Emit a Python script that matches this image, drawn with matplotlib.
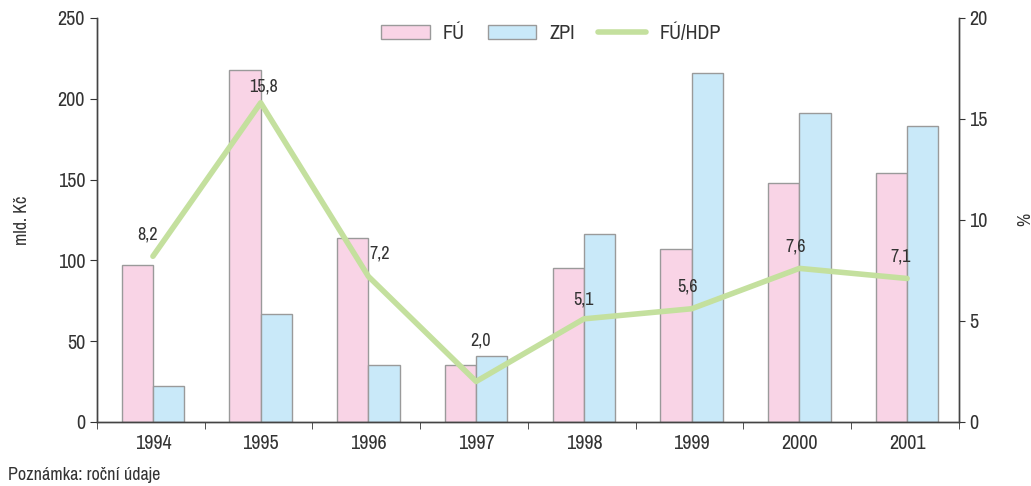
import numpy as np
import matplotlib.pyplot as plt
from matplotlib import font_manager

# prefer a condensed face if one is installed
installed = {f.name for f in font_manager.fontManager.ttflist}
narrow = [n for n in sorted(installed) if "Narrow" in n or "Condensed" in n]
if narrow:
    plt.rcParams['font.family'] = [narrow[0], 'DejaVu Sans']
    fs = 13
else:
    plt.rcParams['font.family'] = ['Roboto', 'DejaVu Sans']
    fs = 12
tfs = fs + 1.5

years = ["1994", "1995", "1996", "1997", "1998", "1999", "2000", "2001"]
fu = [97, 218, 114, 35, 95, 107, 148, 154]
zpi = [22, 67, 35, 41, 116, 216, 191, 183]
fu_hdp = [8.2, 15.8, 7.2, 2.0, 5.1, 5.6, 7.6, 7.1]
fu_hdp_labels = ["8,2", "15,8", "7,2", "2,0", "5,1", "5,6", "7,6", "7,1"]
label_offsets = [(-4, 10), (2, 6), (8, 11), (3, 24), (0, 8), (-3, 10), (-3, 10), (-5, 10)]

pink = "#F9D4E6"
blue = "#C9E9F9"
green = "#C4E09E"
edge = "#9A9A9A"

fig = plt.figure(figsize=(10.31, 4.86), dpi=100)
ax = fig.add_axes([0.094, 0.132, 0.836, 0.831])
ax2 = ax.twinx()

x = np.arange(len(years))
w = 0.29
ax.bar(x - w / 2 + 0.02, fu, w, color=pink, edgecolor=edge, linewidth=1, label="FÚ", zorder=2)
ax.bar(x + w / 2 + 0.02, zpi, w, color=blue, edgecolor=edge, linewidth=1, label="ZPI", zorder=2)
ax2.plot(x + 0.02, fu_hdp, color=green, linewidth=4, solid_capstyle="round", label="FÚ/HDP")

for xi, v, t, off in zip(x + 0.02, fu_hdp, fu_hdp_labels, label_offsets):
    ax2.annotate(t, (xi, v), xytext=off, textcoords="offset points",
                 ha="center", va="bottom", fontsize=fs, color="#333333")

ax.set_xlim(-0.5, len(years) - 0.5)
ax.set_ylim(0, 250)
ax2.set_ylim(0, 20)
ax.set_yticks(range(0, 251, 50))
ax2.set_yticks(range(0, 21, 5))
ax.set_xticks(x + 0.02)
ax.set_xticklabels(years)
ax.set_xticks(np.arange(-0.5, len(years)), minor=True)
ax.tick_params(axis="x", which="major", length=0, pad=9)
ax.tick_params(axis="x", which="minor", length=5, color="#333333")
ax.tick_params(axis="y", length=5, color="#333333")
ax2.tick_params(axis="y", length=4, color="#333333")
for a in (ax, ax2):
    a.tick_params(labelsize=tfs, labelcolor="#333333")
    a.spines["top"].set_visible(False)
    for s in ("left", "right", "bottom"):
        a.spines[s].set_color("#444444")
        a.spines[s].set_linewidth(1)

ax.set_ylabel("mld. Kč", fontsize=fs, color="#333333", labelpad=20)
ax2.set_ylabel("%", fontsize=fs, color="#333333", labelpad=21)

h1, l1 = ax.get_legend_handles_labels()
h2, l2 = ax2.get_legend_handles_labels()
ax.legend(h1 + h2, l1 + l2, loc="upper center", bbox_to_anchor=(0.527, 1.03), ncol=3,
          frameon=False, fontsize=tfs, handlelength=2.4, handleheight=0.75,
          columnspacing=1.15, handletextpad=0.65, labelcolor="#333333")

fig.text(0.008, 0.012, "Poznámka: roční údaje", fontsize=fs, color="#333333")

fig.savefig("out.png", dpi=100)
